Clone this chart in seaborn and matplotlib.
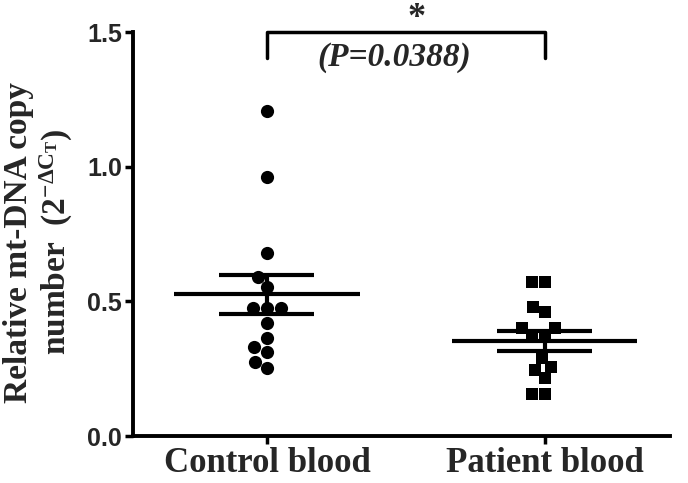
import matplotlib
matplotlib.use("Agg")
import matplotlib.pyplot as plt
import numpy as np
import pandas as pd
import seaborn as sns

# Values
groups = ["Control blood", "Patient blood"]
control_values = [1.207, 0.963, 0.678, 0.592, 0.554, 0.474, 0.474, 0.474,
                  0.418, 0.363, 0.332, 0.313, 0.276, 0.251]
patient_values = [0.573, 0.573, 0.480, 0.462, 0.400, 0.400, 0.370, 0.370,
                  0.290, 0.256, 0.245, 0.215, 0.156, 0.156]
y_ticks = [0.0, 0.5, 1.0, 1.5]
p_label = "(P=0.0388)"

sns.set_theme(style="ticks")
plt.rcParams["font.family"] = ["Liberation Serif", "DejaVu Serif"]
plt.rcParams["axes.unicode_minus"] = False
plt.rcParams["mathtext.fontset"] = "custom"
plt.rcParams["mathtext.rm"] = "Liberation Serif:bold"
plt.rcParams["mathtext.it"] = "Liberation Serif:bold"
plt.rcParams["mathtext.bf"] = "Liberation Serif:bold"

df = pd.DataFrame({
    "group": [groups[0]] * len(control_values) + [groups[1]] * len(patient_values),
    "value": control_values + patient_values,
})

fig = plt.figure(figsize=(6.88, 4.83), dpi=100)
ax = fig.add_axes([0.1933, 0.0973, 0.7805, 0.8364])

# Scatter of individual samples
sns.swarmplot(data=df[df["group"] == groups[0]], x="group", y="value",
              order=groups, marker="o", size=9.5, color="black", ax=ax)
sns.swarmplot(data=df[df["group"] == groups[1]], x="group", y="value",
              order=groups, marker="s", size=9, color="black", ax=ax)

# Mean and SEM bars
stats = df.groupby("group")["value"].agg(["mean", "sem"]).reindex(groups)
for i, (mean, sem) in enumerate(zip(stats["mean"], stats["sem"])):
    ax.hlines(mean, i - 0.333, i + 0.333, color="black", lw=3)
    ax.vlines(i, mean - sem, mean + sem, color="black", lw=3)
    ax.hlines([mean - sem, mean + sem], i - 0.171, i + 0.171, color="black", lw=3)

ax.set_ylim(0, 1.5)
ax.set_xlim(-0.482, 1.45)
ax.set_yticks(y_ticks)
ax.set_yticklabels([f"{t:.1f}" for t in y_ticks], family="Liberation Sans",
                   fontweight="bold", fontsize=18)
ax.set_xticks(range(len(groups)))
ax.set_xticklabels(groups, fontweight="bold", fontsize=25)
ax.set_xlabel("")
ax.set_ylabel("Relative mt-DNA copy\nnumber  (2$^{-\\Delta C_{T}}$)",
              fontweight="bold", fontsize=24, linespacing=1.15)
ax.yaxis.set_label_coords(-0.108, 0.48)
ax.tick_params(axis="both", width=2.5, length=6, color="black", pad=2)
for side in ["left", "bottom"]:
    ax.spines[side].set_linewidth(2.8)
    ax.spines[side].set_color("black")
sns.despine(ax=ax)

# Significance bracket
ax.plot([0, 0, 1, 1], [1.403, 1.5, 1.5, 1.403], color="black", lw=2.5,
        clip_on=False)
ax.text(0.54, 1.552, "*", ha="center", va="center", fontsize=26,
        fontweight="bold")
ax.text(0.457, 1.405, p_label, ha="center", va="center", fontsize=24,
        fontweight="bold", fontstyle="italic")

fig.savefig("out.png", dpi=100)
